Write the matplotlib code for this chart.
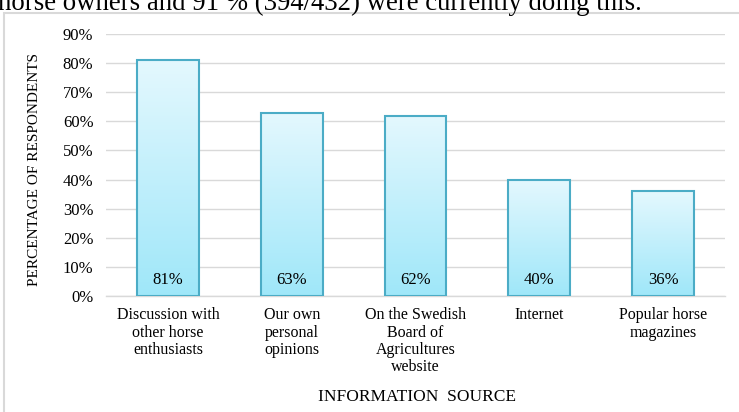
import matplotlib
matplotlib.use("Agg")
import matplotlib.pyplot as plt
import numpy as np
from matplotlib.colors import LinearSegmentedColormap
from matplotlib.patches import Rectangle

categories = ["Discussion with\nother horse\nenthusiasts",
              "Our own\npersonal\nopinions",
              "On the Swedish\nBoard of\nAgricultures\nwebsite",
              "Internet",
              "Popular horse\nmagazines"]
values = [81, 63, 62, 40, 36]
value_labels = ["81%", "63%", "62%", "40%", "36%"]
yticks = [0, 10, 20, 30, 40, 50, 60, 70, 80, 90]
ytick_labels = [f"{t}%" for t in yticks]

W, H = 739, 412
fig = plt.figure(figsize=(W/100, H/100), dpi=100)
serif = "Liberation Serif"

# header text (clipped line from surrounding document)
fig.text(-2/W, 1 - 10/H, "horse owners and 91 % (394/432) were currently doing this.",
         family=serif, fontsize=19.3, va="baseline", ha="left")

# chart border
fig.patches.append(Rectangle((4/W, -0.05), 1.1, 1 - 13/H + 0.05, transform=fig.transFigure,
                             fill=False, edgecolor="#d9d9d9", linewidth=1.5))

ax = fig.add_axes([106/W, 1 - 296/H, (725 - 106)/W, (296 - 34)/H])
x = np.arange(len(categories))
bars = ax.bar(x, values, width=0.5, facecolor="none", edgecolor="#4bacc6", linewidth=1.5, zorder=3)

cmap = LinearSegmentedColormap.from_list("g", ["#9fe7f9", "#e4f8fe"])
grad = np.linspace(0, 1, 256).reshape(-1, 1)
for b in bars:
    x0, y0 = b.get_x(), b.get_y()
    w, h = b.get_width(), b.get_height()
    im = ax.imshow(grad, cmap=cmap, origin="lower", aspect="auto",
                   extent=[x0, x0 + w, y0, y0 + h], zorder=2)
    im.set_clip_path(b)

for xi, lab in zip(x, value_labels):
    ax.text(xi, 4.1, lab, ha="center", va="baseline", family=serif, fontsize=12, zorder=4)

ax.set_xlim(-0.5, len(categories) - 0.5)
ax.set_ylim(0, 90)
ax.set_yticks(yticks)
ax.set_yticklabels(ytick_labels, family=serif, fontsize=12)
ax.set_xticks(x)
ax.set_xticklabels(categories, family=serif, fontsize=11.5, linespacing=1.12, va="top")
ax.tick_params(axis="both", length=0)
ax.tick_params(axis="y", pad=9)
ax.tick_params(axis="x", pad=8)
ax.grid(axis="y", color="#d9d9d9", linewidth=1.0, zorder=0)
ax.set_axisbelow(True)
for s in ["top", "right", "left"]:
    ax.spines[s].set_visible(False)
ax.spines["bottom"].set_color("#d9d9d9")
ax.spines["bottom"].set_linewidth(1.0)

fig.text(35/W, 1 - 169/H, "PERCENTAGE OF RESPONDENTS", rotation=90, ha="center", va="center",
         family=serif, fontsize=11)
fig.text(417/W, 1 - 397/H, "INFORMATION  SOURCE", ha="center", va="center",
         family=serif, fontsize=12.5)

fig.savefig("out.png", dpi=100)
